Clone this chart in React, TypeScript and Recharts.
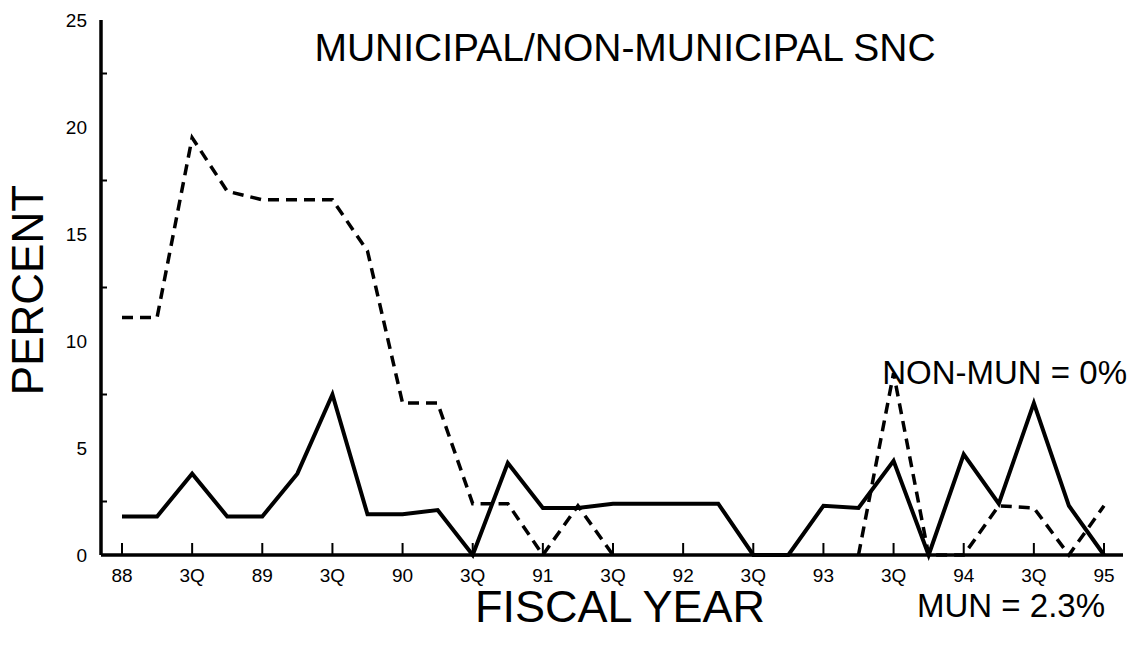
import { LineChart, Line, XAxis, YAxis } from 'recharts';

// quarterly points, FY88 .. FY95
const QUARTER_LABELS = [
  '88', '', '3Q', '', '89', '', '3Q', '', '90', '', '3Q', '', '91', '', '3Q', '',
  '92', '', '3Q', '', '93', '', '3Q', '', '94', '', '3Q', '', '95',
];

const MUN = [
  1.8, 1.8, 3.8, 1.8, 1.8, 3.8, 7.5, 1.9, 1.9, 2.1, 0, 4.3, 2.2, 2.2, 2.4, 2.4,
  2.4, 2.4, 0, 0, 2.3, 2.2, 4.4, 0, 4.7, 2.4, 7.1, 2.3, 0,
];

// null where the dashed line is not drawn (sits on the axis)
const NON_MUN = [
  11.1, 11.1, 19.5, 17.0, 16.6, 16.6, 16.6, 14.2, 7.1, 7.1, 2.4, 2.4, 0, 2.3, 0, null,
  null, null, null, null, null, 0, 8.5, 0, 0, 2.3, 2.2, 0, 2.3,
];

const Y_TICKS = [0, 2.5, 5, 7.5, 10, 12.5, 15, 17.5, 20, 22.5, 25];
const X_TICKS = QUARTER_LABELS.map((_, i) => i).filter((i) => i % 2 === 0);

const FONT = '"Liberation Sans", Arial, Helvetica, sans-serif';

const data = QUARTER_LABELS.map((label, i) => ({
  idx: i,
  label,
  mun: MUN[i],
  nonMun: NON_MUN[i],
}));

function XTick(props: any) {
  const { x, y, payload } = props;
  const label = QUARTER_LABELS[payload.value];
  return (
    <g>
      <line x1={x} x2={x} y1={y} y2={y - 12} stroke="#000" strokeWidth={2} />
      <text x={x} y={y + 27} textAnchor="middle" style={{ fontSize: 19, fontFamily: FONT }} fill="#000">
        {label}
      </text>
    </g>
  );
}

function YTick(props: any) {
  const { x, y, payload } = props;
  const v = payload.value as number;
  if (v % 5 !== 0) {
    return <line x1={x} x2={x + 6} y1={y} y2={y} stroke="#000" strokeWidth={2} />;
  }
  return (
    <text x={x - 14} y={y + 7} textAnchor="end" style={{ fontSize: 19, fontFamily: FONT }} fill="#000">
      {v}
    </text>
  );
}

export default function App() {
  return (
    <div style={{ position: 'absolute', left: 0, top: 0, width: 1137, height: 645, background: '#fff' }}>
      <LineChart
        width={1137}
        height={645}
        data={data}
        margin={{ top: 20, right: 14, left: 41, bottom: 60 }}
      >
        <XAxis
          dataKey="idx"
          type="number"
          domain={[0, 28]}
          ticks={X_TICKS}
          interval={0}
          padding={{ left: 21, right: 19 }}
          height={30}
          tickSize={0}
          tickMargin={0}
          tick={<XTick />}
          axisLine={{ stroke: '#000', strokeWidth: 3.5 }}
          tickLine={false}
        />
        <YAxis
          type="number"
          domain={[0, 25]}
          ticks={Y_TICKS}
          interval={0}
          width={60}
          tickSize={0}
          tickMargin={0}
          tick={<YTick />}
          axisLine={{ stroke: '#000', strokeWidth: 3.5 }}
          tickLine={false}
        />
        <Line
          dataKey="nonMun"
          type="linear"
          stroke="#000"
          strokeWidth={3.5}
          strokeDasharray="11 7"
          dot={false}
          isAnimationActive={false}
        />
        <Line
          dataKey="mun"
          type="linear"
          stroke="#000"
          strokeWidth={4}
          dot={false}
          isAnimationActive={false}
        />
      </LineChart>
      <svg
        width={1137}
        height={645}
        style={{ position: 'absolute', left: 0, top: 0, pointerEvents: 'none' }}
      >
        <text x={625} y={61} textAnchor="middle" fontSize={39} fontFamily={FONT} fill="#000">
          MUNICIPAL/NON-MUNICIPAL SNC
        </text>
        <text
          x={0}
          y={0}
          transform="translate(43, 290) rotate(-90)"
          textAnchor="middle"
          fontSize={44}
          fontFamily={FONT}
          fill="#000"
        >
          PERCENT
        </text>
        <text x={620} y={622} textAnchor="middle" fontSize={45} fontFamily={FONT} fill="#000">
          FISCAL YEAR
        </text>
        <text x={1127} y={384} textAnchor="end" fontSize={33} fontFamily={FONT} fill="#000">
          NON-MUN = 0%
        </text>
        <text x={1105} y={617} textAnchor="end" fontSize={33} fontFamily={FONT} fill="#000">
          MUN = 2.3%
        </text>
      </svg>
    </div>
  );
}
